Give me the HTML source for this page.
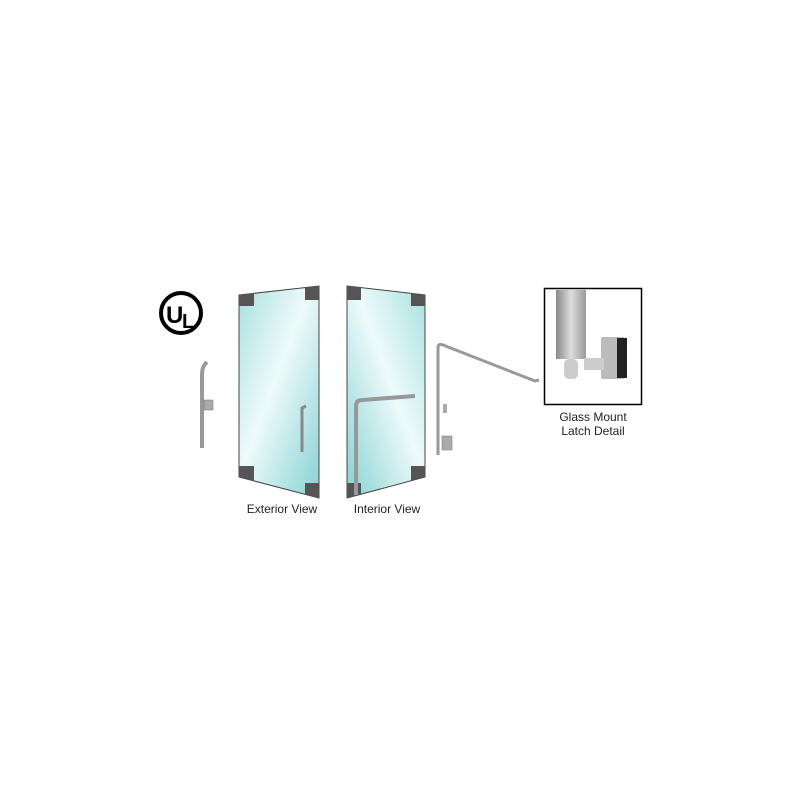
<!DOCTYPE html>
<html><head><style>
html,body{margin:0;padding:0;background:#fff;}
svg{display:block}
text{font-family:"Liberation Sans",sans-serif;font-size:12px;fill:#222}
</style></head><body>
<svg width="800" height="800" viewBox="0 0 800 800">
<defs>
<linearGradient id="g1" x1="0" y1="0" x2="1" y2="1">
<stop offset="0" stop-color="#a8e0e0"/><stop offset="0.45" stop-color="#eefafa"/><stop offset="1" stop-color="#86d2d2"/>
</linearGradient>
<linearGradient id="g2" x1="1" y1="0" x2="0" y2="1">
<stop offset="0" stop-color="#a8e0e0"/><stop offset="0.45" stop-color="#eefafa"/><stop offset="1" stop-color="#86d2d2"/>
</linearGradient>
<linearGradient id="met" x1="0" y1="0" x2="1" y2="0">
<stop offset="0" stop-color="#888"/><stop offset="0.5" stop-color="#ddd"/><stop offset="1" stop-color="#999"/>
</linearGradient>
<clipPath id="c1"><polygon points="239,295 319,286 319,498 239,477"/></clipPath>
<clipPath id="c2"><polygon points="347,286 425,295 425,477 347,498"/></clipPath>
</defs>
<circle cx="181" cy="313" r="20" fill="none" stroke="#000" stroke-width="4"/>
<text x="166" y="323" style="font-size:24px;font-weight:bold;fill:#000">U</text>
<text x="182" y="328" style="font-size:20px;font-weight:bold;fill:#000">L</text>
<path d="M202 448 L202 375 Q202 366 207 362" fill="none" stroke="#999" stroke-width="4"/>
<rect x="204" y="400" width="9" height="10" fill="#aaa" stroke="#777" stroke-width="0.5"/>
<polygon points="239,295 319,286 319,498 239,477" fill="url(#g1)" stroke="#444" stroke-width="1"/>
<g clip-path="url(#c1)" fill="#555">
<rect x="239" y="286" width="15" height="20"/>
<rect x="239" y="466" width="15" height="20"/>
<rect x="305" y="280" width="14" height="20"/>
<rect x="305" y="483" width="14" height="20"/>
</g>
<path d="M302 452 L302 408 L306 406" fill="none" stroke="#888" stroke-width="3"/>
<polygon points="347,286 425,295 425,477 347,498" fill="url(#g2)" stroke="#444" stroke-width="1"/>
<g clip-path="url(#c2)" fill="#555">
<rect x="347" y="280" width="14" height="20"/>
<rect x="347" y="483" width="14" height="20"/>
<rect x="411" y="286" width="14" height="20"/>
<rect x="411" y="466" width="14" height="20"/>
</g>
<path d="M356 495 L356 406 Q356 400 362 400 L415 396" fill="none" stroke="#999" stroke-width="4"/>
<path d="M438 455 L438 348 Q438 343 443 345 L535 381 L539 380" fill="none" stroke="#999" stroke-width="3"/>
<rect x="443" y="404" width="4" height="9" fill="#aaa"/>
<rect x="442" y="436" width="10" height="14" fill="#aaa" stroke="#777" stroke-width="0.5"/>
<rect x="544.5" y="288.5" width="97" height="116" fill="#fff" stroke="#000" stroke-width="1.5"/>
<rect x="556" y="290" width="30" height="69" fill="url(#met)"/>
<rect x="601" y="337" width="24" height="42" fill="#bbb" rx="2"/>
<rect x="617" y="338" width="10" height="40" fill="#222"/>
<rect x="584" y="358" width="20" height="12" fill="#ccc"/>
<rect x="564" y="359" width="14" height="20" fill="#ccc" rx="5"/>
<text x="593" y="421" text-anchor="middle">Glass Mount</text>
<text x="593" y="435" text-anchor="middle">Latch Detail</text>
<text x="282" y="513" text-anchor="middle">Exterior View</text>
<text x="387" y="513" text-anchor="middle">Interior View</text>
</svg>
</body></html>
